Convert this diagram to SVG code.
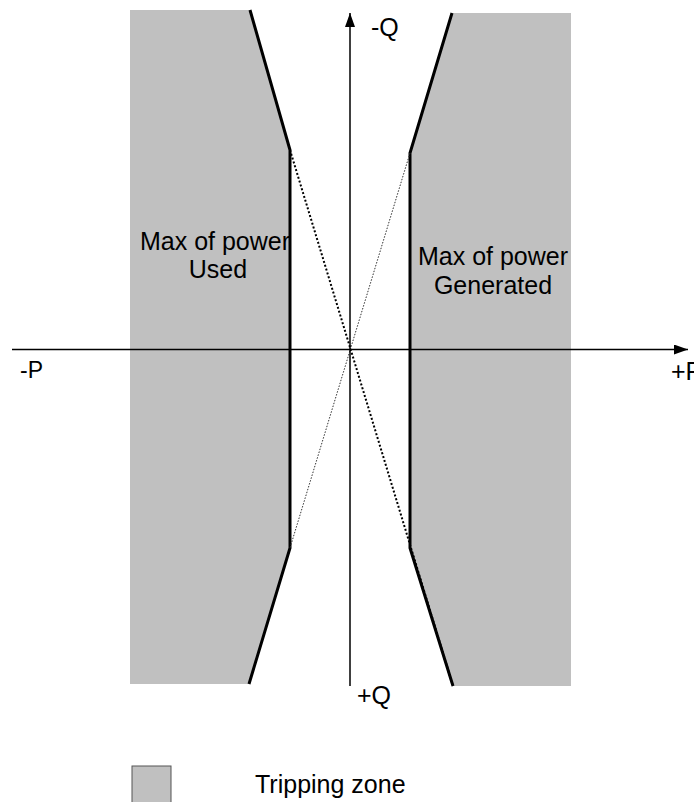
<svg xmlns="http://www.w3.org/2000/svg" width="694" height="802" viewBox="0 0 694 802">
<style>
.zone{fill:#C0C0C0;stroke:none}
.edge{fill:none;stroke:#000;stroke-width:3;stroke-linejoin:miter}
.axis{stroke:#000;stroke-width:1.5;fill:none}
.dot1{stroke:#000;stroke-width:2;stroke-dasharray:2 2;fill:none}
.dot2{stroke:#333;stroke-width:1;stroke-dasharray:1.5 1.5;fill:none}
text{font-family:"Liberation Sans",Arial,sans-serif;font-size:25px;fill:#000}
</style>
<defs>
<marker id="arr" markerWidth="14" markerHeight="10" refX="14" refY="5" orient="auto" markerUnits="userSpaceOnUse">
<path d="M0,0 L14,5 L0,10 Z" fill="#000"/>
</marker>
</defs>
<g id="zone-used">
<polygon class="zone" points="130,10 250,10 290,150 290,548 249,684 130,684"/>
<polyline class="edge" points="250,10 290,150 290,548 249,684"/>
<text x="215" y="250" text-anchor="middle">Max of power</text>
<text x="218" y="278" text-anchor="middle">Used</text>
</g>
<g id="zone-generated">
<polygon class="zone" points="452,13 571,13 571,686 453,686 410,548 410,153"/>
<polyline class="edge" points="452,13 410,153 410,548 453,686"/>
<text x="493" y="265" text-anchor="middle">Max of power</text>
<text x="493" y="294" text-anchor="middle">Generated</text>
</g>
<g id="connectors">
<line class="dot1" x1="290" y1="150" x2="453" y2="686"/>
<line class="dot2" x1="410" y1="153" x2="290" y2="548"/>
<line class="axis" x1="12" y1="349.5" x2="688" y2="349.5" marker-end="url(#arr)"/>
<line class="axis" x1="350" y1="686" x2="350" y2="13" marker-end="url(#arr)"/>
</g>
<g id="labels">
<text x="371" y="36">-Q</text>
<text x="357" y="704">+Q</text>
<text x="20" y="378" style="font-size:23px">-P</text>
<text x="671" y="380">+P</text>
</g>
<g id="legend">
<rect x="132" y="766" width="39" height="40" fill="#C0C0C0" stroke="#555" stroke-width="1"/>
<text x="255" y="793">Tripping zone</text>
</g>
</svg>
